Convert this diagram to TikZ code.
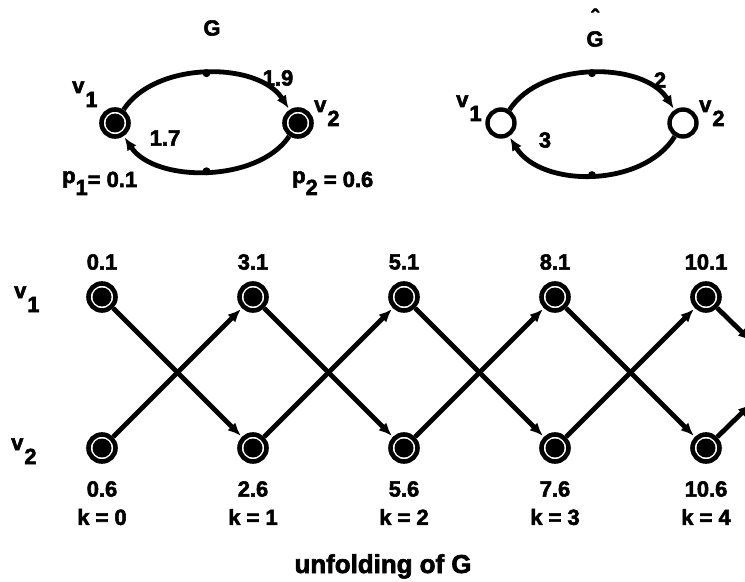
\documentclass[tikz,border=0pt]{standalone}
\usepackage{fontspec}
\setmainfont{Liberation Sans}
\newfontface\heavy{Liberation Sans Bold}[FakeBold=2.5]
\usetikzlibrary{arrows.meta}

% vertex name with a full-size, lowered index
\newcommand\vsub[2]{#1\kern1bp\raisebox{-14bp}{#2}}

\tikzset{
  lbl/.style={font=\heavy\fontsize{22}{24}\selectfont, inner sep=0pt},
  biglbl/.style={font=\heavy\fontsize{26}{28}\selectfont, inner sep=0pt},
  vtx/.style={circle, draw, line width=4.6bp, minimum size=27bp, inner sep=0pt,
    path picture={\fill (path picture bounding box.center) circle (9.5bp);}},
  ovtx/.style={circle, draw, line width=4.4bp, minimum size=27bp, inner sep=0pt},
  flow/.style={line width=4.8bp, -{Latex[length=13bp,width=11bp]}, shorten >=1.5bp},
  dotmark/.style={circle, fill, inner sep=0pt, minimum size=8bp},
}

\begin{document}
\begin{tikzpicture}[x=1bp,y=-1bp]
\useasboundingbox (0,0) rectangle (745,582);
\clip (0,0) rectangle (745,582);

% ---------- graph G ----------
\node[lbl] (tG) at (212,28) {G};
\node[vtx] (a1) at (115,123) {};
\node[vtx] (a2) at (298,123) {};
\draw[flow] (a1) .. controls +(40,-62) and +(-40,-62) .. node[dotmark, pos=0.5] {} (a2);
\draw[flow] (a2) .. controls +(-40,60) and +(40,60) .. node[dotmark, pos=0.5] {} (a1);
\node[lbl, anchor=base west] (a1l) at (72,93) {\vsub{v}{1}};
\node[lbl, anchor=base west] (a2l) at (314,112) {\vsub{v}{2}};
\node[lbl] (w12) at (278,78) {1.9};
\node[lbl] (w21) at (165,138) {1.7};
\node[lbl, anchor=base west] (p1) at (62,183) {p\raisebox{-12bp}{1}\raisebox{-4bp}{= 0.1}};
\node[lbl, anchor=base west] (p2) at (292,183) {p\raisebox{-12bp}{2}\raisebox{-4bp}{ = 0.6}};

% ---------- graph G-hat ----------
\node[lbl, anchor=base] (hat) at (595,25) {\char"02C6};
\node[lbl] (tGh) at (595,39) {G};
\node[ovtx] (b1) at (501,123) {};
\node[ovtx] (b2) at (683,123) {};
\draw[flow] (b1) .. controls +(40,-62) and +(-40,-62) .. node[dotmark, pos=0.5] {} (b2);
\draw[flow] (b2) .. controls +(-40,65) and +(40,65) .. node[dotmark, pos=0.5] {} (b1);
\node[lbl, anchor=base west] (b1l) at (456,107) {\vsub{v}{1}};
\node[lbl, anchor=base west] (b2l) at (699,112) {\vsub{v}{2}};
\node[lbl] (h12) at (660,80) {2};
\node[lbl] (h21) at (545,140) {3};

% ---------- unfolding ----------
\node[lbl, anchor=base west] (r1) at (14,298) {\vsub{v}{1}};
\node[lbl, anchor=base west] (r2) at (11,450) {\vsub{v}{2}};

\foreach \k/\t/\b in {0/0.1/0.6, 1/3.1/2.6, 2/5.1/5.6, 3/8.1/7.6, 4/10.1/10.6} {
  \node[vtx] (u\k) at (102+151*\k,297) {};
  \node[vtx] (d\k) at (102+151*\k,448) {};
  \node[lbl] (ut\k) at (102+151*\k,262) {\t};
  \node[lbl] (db\k) at (102+151*\k,489) {\b};
  \node[lbl] (kk\k) at (102+151*\k,517) {k = \k};
}
\coordinate (u5) at (102+151*5,297);
\coordinate (d5) at (102+151*5,448);

\foreach \k [evaluate=\k as \n using int(\k+1)] in {0,...,3} {
  \draw[flow] (u\k) -- (d\n);
  \draw[flow] (d\k) -- (u\n);
}
% the last step leaves the frame
\coordinate (x1) at (752,342);
\coordinate (x2) at (752,403);
\draw[flow] (u4) -- (x1);
\draw[flow] (d4) -- (x2);

\node[biglbl, anchor=base] (cap) at (383,573) {unfolding of G};
\end{tikzpicture}
\end{document}
